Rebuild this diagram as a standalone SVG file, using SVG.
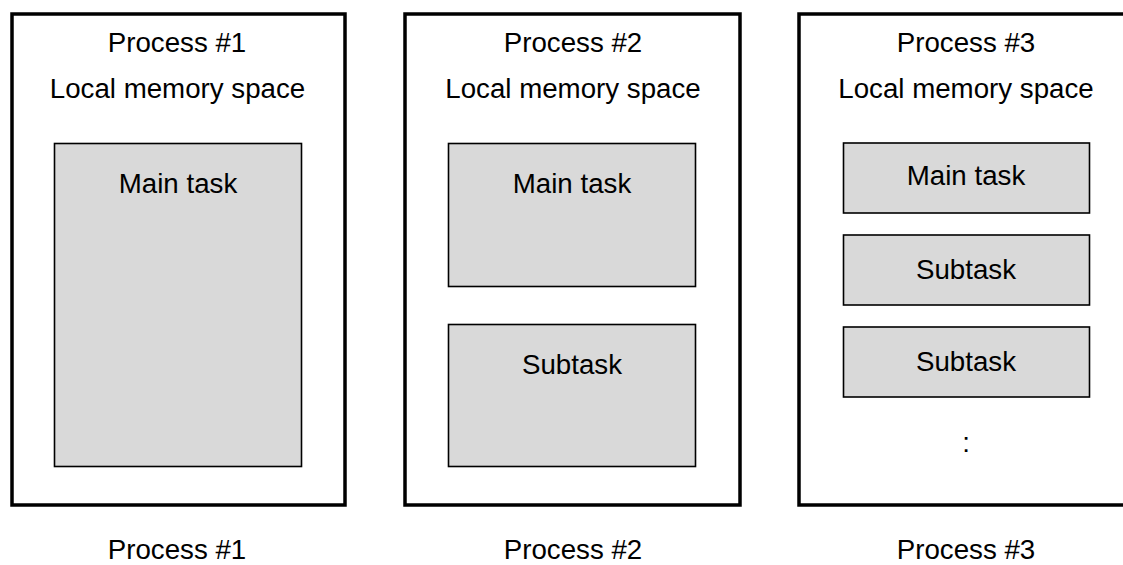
<svg xmlns="http://www.w3.org/2000/svg" width="1123" height="565" viewBox="0 0 1123 565">
<style>
.outer{fill:#fff;stroke:#000;stroke-width:3.5}
.inner{fill:#d9d9d9;stroke:#000;stroke-width:1.6}
text{font-family:"Liberation Sans",Arial,sans-serif;font-size:27.7px;fill:#000;text-anchor:middle}
</style>
<rect width="1123" height="565" fill="#fff"/>
<g id="process1">
<rect class="outer" x="12" y="14" width="333" height="491"/>
<text x="177" y="52">Process #1</text>
<text x="177.5" y="98">Local memory space</text>
<g id="p1-main"><rect class="inner" x="54.5" y="143.5" width="247" height="323"/>
<text x="178" y="193">Main task</text></g>
</g>
<g id="process2">
<rect class="outer" x="405" y="14" width="335" height="491"/>
<text x="573" y="52">Process #2</text>
<text x="573" y="98">Local memory space</text>
<g id="p2-main"><rect class="inner" x="448.5" y="143.5" width="247" height="143"/>
<text x="572" y="193">Main task</text></g>
<g id="p2-sub"><rect class="inner" x="448.5" y="324.5" width="247" height="142"/>
<text x="572" y="374">Subtask</text></g>
</g>
<g id="process3">
<rect class="outer" x="799" y="14" width="335" height="491"/>
<text x="966" y="52">Process #3</text>
<text x="966" y="98">Local memory space</text>
<g id="p3-main"><rect class="inner" x="843.5" y="143" width="246" height="70"/>
<text x="966" y="185">Main task</text></g>
<g id="p3-sub1"><rect class="inner" x="843.5" y="235" width="246" height="70"/>
<text x="966" y="279">Subtask</text></g>
<g id="p3-sub2"><rect class="inner" x="843.5" y="327" width="246" height="70"/>
<text x="966" y="371">Subtask</text></g>
<text x="966" y="452">:</text>
</g>
<g id="connectors"></g>
<g id="labels">
<text x="177" y="559">Process #1</text>
<text x="573" y="559">Process #2</text>
<text x="966" y="559">Process #3</text>
</g>
</svg>
